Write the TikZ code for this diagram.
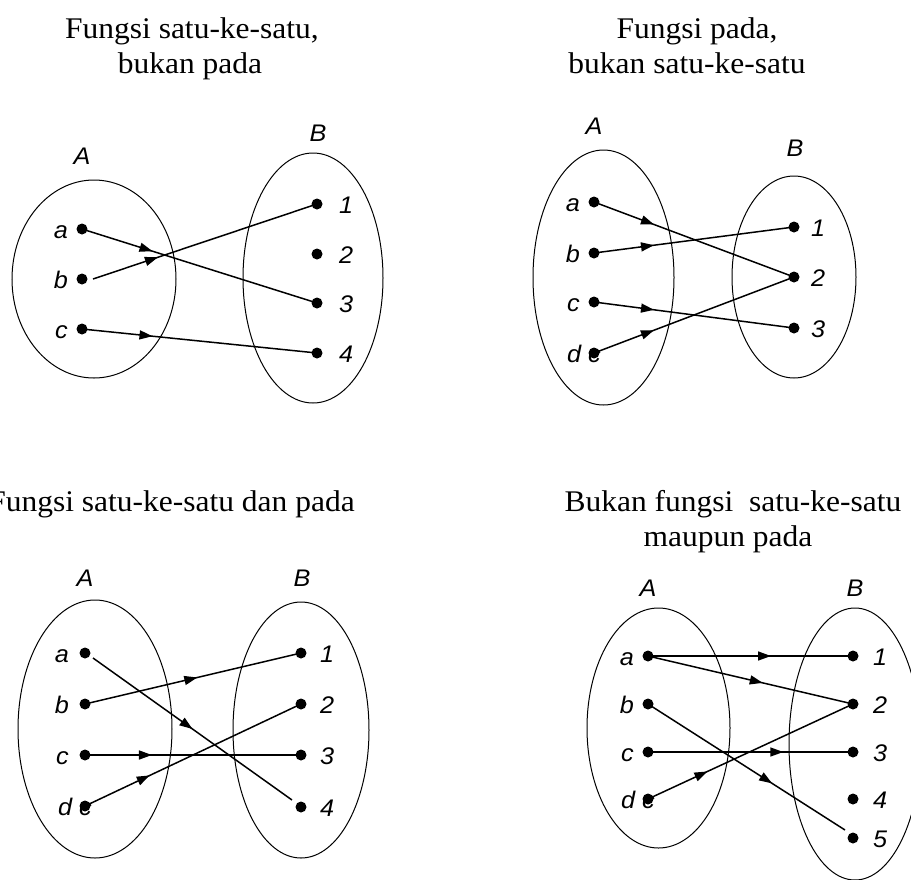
\documentclass[tikz,border=0pt]{standalone}
\usepackage{fontspec}
\setmainfont{Liberation Serif}[FakeStretch=1.05]
\newfontfamily\lblfont{Liberation Sans}[FakeStretch=1.05]
\usetikzlibrary{arrows.meta,decorations.markings,calc}
\pgfdeclarelayer{bg}
\pgfsetlayers{bg,main}
\tikzset{
  setshape/.style={draw, line width=1pt},
  pt/.style={circle, fill=black, inner sep=0pt, minimum size=11pt},
  lblf/.style={font=\lblfont\itshape\fontsize{24}{28}\selectfont, inner sep=0pt},
  lett/.style={lblf, anchor=base east},
  numb/.style={lblf, anchor=base west},
  setname/.style={lblf, anchor=base},
  ttl/.style={font=\fontsize{30}{35}\selectfont, inner sep=0pt, anchor=base},
  conn/.style={line width=1.5pt, postaction={decorate},
    decoration={markings, mark=at position #1 with {\arrow{Triangle[length=13pt,width=9pt]}}}},
  conn/.default=0.3
}
% point with letter label on the left: name, x, y, text, gap
\newcommand\ptL[5]{\node[lett] (#1l) at (#2-#5,#3+9) {#4};\node[pt] (#1) at (#2,#3) {};}
% point with number label on the right
\newcommand\ptR[5]{\node[numb] (#1l) at (#2+#5,#3+9) {#4};\node[pt] (#1) at (#2,#3) {};}
\begin{document}
\begin{tikzpicture}[x=1pt,y=-1pt]
\useasboundingbox (0,0) rectangle (911,879);
% ---------- titles ----------
\node[ttl] (t1a) at (192,38) {Fungsi satu-ke-satu,};
\node[ttl] (t1b) at (190,73) {bukan pada};
\node[ttl] (t2a) at (697,38) {Fungsi pada,};
\node[ttl] (t2b) at (687,73) {bukan satu-ke-satu};
\node[ttl, anchor=base east] (t3) at (355,511) {Fungsi satu-ke-satu dan pada};
\node[ttl] (t4a) at (733,511) {Bukan fungsi\ \ satu-ke-satu};
\node[ttl] (t4b) at (728,546) {maupun pada};
% ---------- panel 1 ----------
\draw[setshape] (94,279) ellipse [x radius=82, y radius=99];
\draw[setshape] (313,278) ellipse [x radius=70, y radius=125];
\node[setname] (p1A) at (82,164) {A};
\node[setname] (p1B) at (318,141) {B};
\ptL{p1a}{82}{229}{a}{14}
\ptL{p1b}{82}{279}{b}{14}
\ptL{p1c}{82}{329}{c}{14}
\ptR{p1n1}{317}{204}{1}{22}
\ptR{p1n2}{317}{254}{2}{22}
\ptR{p1n3}{317}{303}{3}{22}
\ptR{p1n4}{317}{353}{4}{22}
\coordinate (p1bs) at (93,279);
% ---------- panel 2 ----------
\draw[setshape] (603.5,277.5) ellipse [x radius=70.5, y radius=127.5];
\draw[setshape] (794,277) ellipse [x radius=62, y radius=101];
\node[setname] (p2A) at (594,134) {A};
\node[setname] (p2B) at (795,156) {B};
\ptL{p2a}{594}{202}{a}{14}
\ptL{p2b}{594}{253}{b}{14}
\ptL{p2c}{594}{302}{c}{14}
\ptL{p2d}{594}{353}{d c}{-7}
\ptR{p2n1}{794}{227}{1}{17}
\ptR{p2n2}{794}{277}{2}{17}
\ptR{p2n3}{794}{328}{3}{17}
% ---------- panel 3 ----------
\draw[setshape] (95,729) ellipse [x radius=77, y radius=129];
\draw[setshape] (301,730) ellipse [x radius=68, y radius=128];
\node[setname] (p3A) at (85,586) {A};
\node[setname] (p3B) at (302,586) {B};
\ptL{p3a}{85}{653}{a}{16}
\ptL{p3b}{85}{704}{b}{16}
\ptL{p3c}{85}{755}{c}{16}
\ptL{p3d}{85}{806}{d c}{-7}
\ptR{p3n1}{301}{653}{1}{19}
\ptR{p3n2}{301}{704}{2}{19}
\ptR{p3n3}{301}{755}{3}{19}
\ptR{p3n4}{301}{807}{4}{19}
\coordinate (p3as) at (93,658);
\coordinate (p3ae) at (292,800);
% ---------- panel 4 ----------
\draw[setshape] (658.5,728) ellipse [x radius=71.5, y radius=120];
\draw[setshape] (855,744) ellipse [x radius=66, y radius=136];
\node[setname] (p4A) at (648,596) {A};
\node[setname] (p4B) at (855,596) {B};
\ptL{p4a}{648}{656}{a}{14}
\ptL{p4b}{648}{704}{b}{14}
\ptL{p4c}{648}{752}{c}{14}
\ptL{p4d}{648}{799}{d c}{-7}
\ptR{p4n1}{853}{656}{1}{20}
\ptR{p4n2}{853}{704}{2}{20}
\ptR{p4n3}{853}{752}{3}{20}
\ptR{p4n4}{853}{799}{4}{20}
\ptR{p4n5}{853}{838}{5}{20}
\coordinate (p4be) at (845,830);
% ---------- connectors ----------
\begin{pgfonlayer}{bg}
\draw[conn] (p1a.center) -- (p1n3.center);
\draw[conn=0.29] (p1bs) -- (p1n1.center);
\draw[conn] (p1c.center) -- (p1n4.center);
\draw[conn] (p2a.center) -- (p2n2.center);
\draw[conn] (p2b.center) -- (p2n1.center);
\draw[conn] (p2c.center) -- (p2n3.center);
\draw[conn] (p2d.center) -- (p2n2.center);
\draw[conn=0.5] (p3as) -- (p3ae);
\draw[conn=0.52] (p3b.center) -- (p3n1.center);
\draw[conn=0.31] (p3c.center) -- (p3n3.center);
\draw[conn] (p3d.center) -- (p3n2.center);
\draw[conn=0.6] (p4a.center) -- (p4n1.center);
\draw[conn=0.56] (p4a.center) -- (p4n2.center);
\draw[conn=0.63] (p4b.center) -- (p4be);
\draw[conn=0.66] (p4c.center) -- (p4n3.center);
\draw[conn=0.29] (p4d.center) -- (p4n2.center);
\end{pgfonlayer}
\end{tikzpicture}
\end{document}
